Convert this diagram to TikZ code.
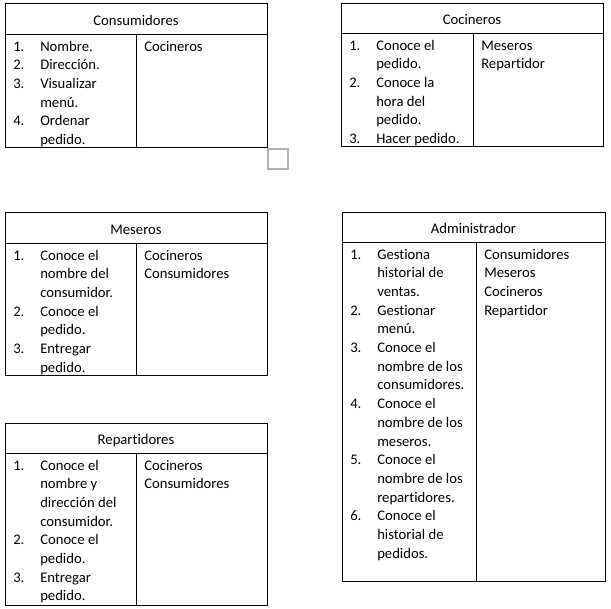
\documentclass[tikz,border=0pt]{standalone}
\usepackage{fontspec}
\setmainfont{Carlito}[Ligatures=NoCommon]
\usetikzlibrary{positioning}

\tikzset{
  card/.style={draw, line width=0.75pt},
  ttl/.style={font=\fontsize{11}{14}\selectfont, anchor=base, inner sep=0pt},
  itm/.style={font=\fontsize{11}{14}\selectfont, anchor=base west, inner sep=0pt},
}

% card frame: name, left, top, right, title line, column line, bottom, title
\newcommand\rolecard[8]{%
  \draw[card] (#2,#3) rectangle (#4,#7);
  \draw[card] (#2,#5) -- (#4,#5);
  \draw[card] (#6,#5) -- (#6,#7);
  \node[ttl] (#1) at ({(#2+#4)/2},#5-9) {#8};
}
% numbered list: name, left, title line, items
\newcommand\duties[4]{%
  \foreach \n/\t [count=\i from 0] in {#4} {
    \node[itm] (#1-n\i) at (#2+8,#3+17+18.7*\i) {\n};
    \node[itm] (#1-t\i) at (#2+35,#3+17+18.7*\i) {\t};
  }
}
% right column: name, column line, title line, items
\newcommand\knows[4]{%
  \foreach \t [count=\i from 0] in {#4} {
    \node[itm] (#1-k\i) at (#2+8,#3+17+18.7*\i) {\t};
  }
}

\begin{document}
\begin{tikzpicture}[x=0.75pt, y=-0.75pt]
    \useasboundingbox (0,0) rectangle (611,608);
    % Consumidores
    \rolecard{cons}{5}{3}{267}{34}{136}{147}{Consumidores}
    \duties{cons}{5}{34}{1./Nombre., 2./Dirección., 3./Visualizar, /menú., 4./Ordenar, /pedido.}
    \knows{cons}{136}{34}{Cocineros}
    % Cocineros
    \rolecard{coc}{341}{3}{603}{33}{473}{146}{Cocineros}
    \duties{coc}{341}{33}{1./Conoce el, /pedido., 2./Conoce la, /hora del, /pedido., 3./Hacer pedido.}
    \knows{coc}{473}{33}{Meseros, Repartidor}
    % Meseros
    \rolecard{mes}{5}{212}{267}{243}{136}{375}{Meseros}
    \duties{mes}{5}{243}{1./Conoce el, /nombre del, /consumidor., 2./Conoce el, /pedido., 3./Entregar, /pedido.}
    \knows{mes}{136}{243}{Cocineros, Consumidores}
    % Administrador
    \rolecard{adm}{342}{212}{605}{242}{476}{581}{Administrador}
    \duties{adm}{342}{242}{1./Gestiona, /historial de, /ventas., 2./Gestionar, /menú., 3./Conoce el, /nombre de los, /consumidores., 4./Conoce el, /nombre de los, /meseros., 5./Conoce el, /nombre de los, /repartidores., 6./Conoce el, /historial de, /pedidos.}
    \knows{adm}{476}{242}{Consumidores, Meseros, Cocineros, Repartidor}
    % Repartidores
    \rolecard{rep}{5}{423}{267}{453}{136}{605}{Repartidores}
    \duties{rep}{5}{453}{1./Conoce el, /nombre y, /dirección del, /consumidor., 2./Conoce el, /pedido., 3./Entregar, /pedido.}
    \knows{rep}{136}{453}{Cocineros, Consumidores}
    % anchor mark
    \draw[black!30, line width=1.5pt] (268,149) rectangle (288,169);
\end{tikzpicture}
\end{document}
